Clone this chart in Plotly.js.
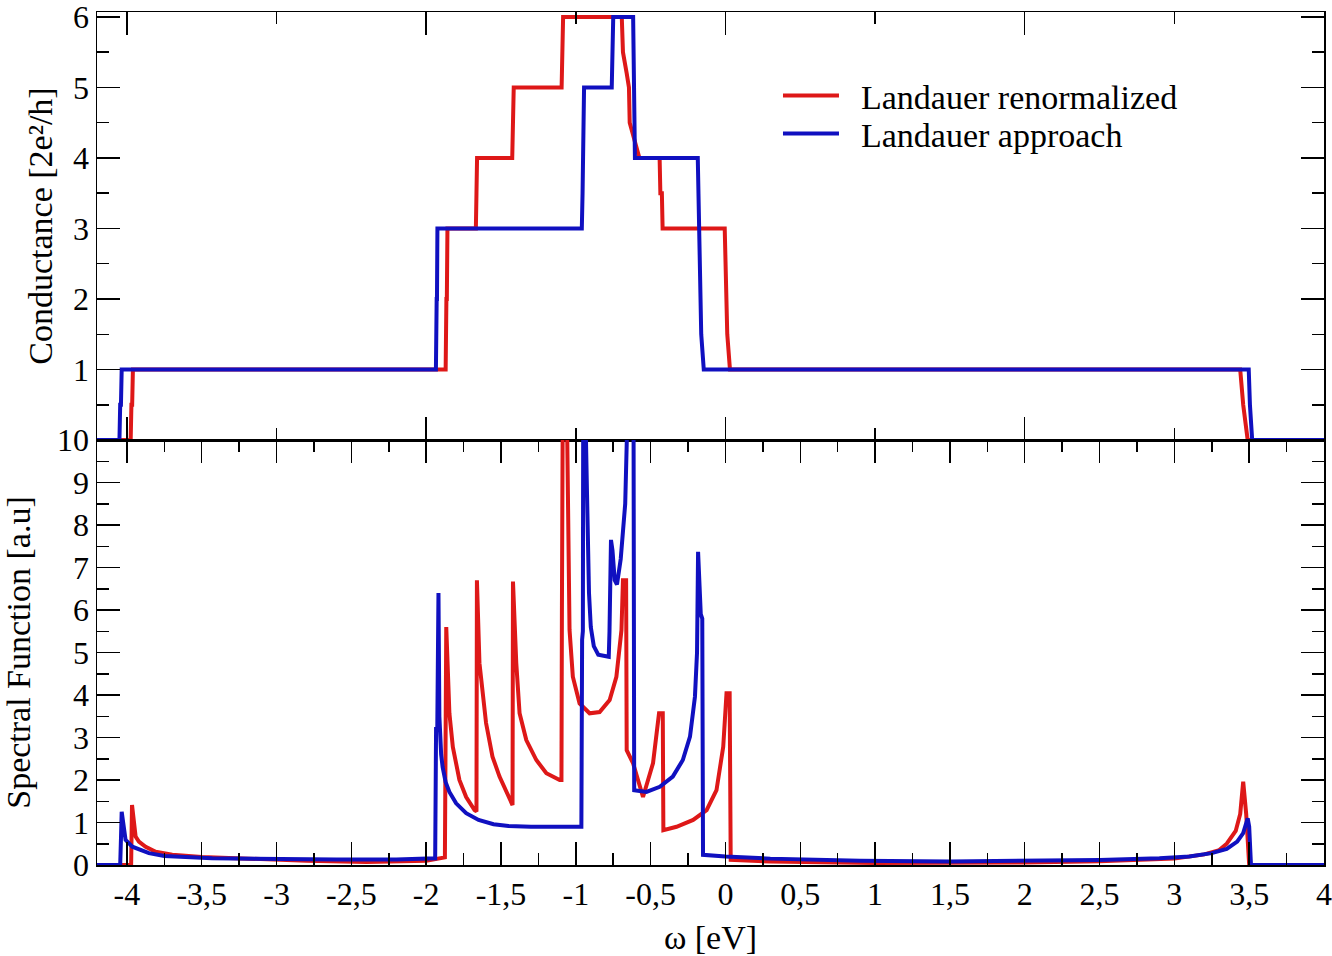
<!DOCTYPE html>
<html>
<head>
<meta charset="utf-8">
<script src="https://cdn.plot.ly/plotly-3.0.1.min.js"></script>
<style>html,body{margin:0;padding:0;background:#fff;}#chart{width:1332px;height:956px;}</style>
</head>
<body>
<div id="chart"></div>
<script>
// ---------- Conductance (top panel) ----------
const gRenX = [-4.2,-3.975,-3.97,-3.965,-3.96,-1.87,-1.865,-1.862,-1.858,-1.668,-1.664,-1.66,-1.425,-1.42,-1.415,-1.095,-1.09,-1.085,-0.693,-0.685,-0.66,-0.645,-0.64,-0.6,-0.575,-0.44,-0.435,-0.425,-0.42,-0.005,0.0,0.005,0.012,0.03,3.44,3.46,3.49,4.0];
const gRenY = [0,0,0.5,0.5,1,1,2,2,3,3,3.5,4,4,4.5,5,5,5.5,6,6,5.5,5.2,5,4.5,4.2,4,4,3.5,3.5,3,3,2.5,2.5,1.5,1,1,0.5,0,0];
const gAppX = [-4.2,-4.05,-4.045,-4.04,-4.035,-1.935,-1.93,-1.928,-1.925,-0.96,-0.955,-0.952,-0.948,-0.945,-0.76,-0.755,-0.75,-0.617,-0.612,-0.605,-0.185,-0.18,-0.172,-0.162,-0.145,3.497,3.505,3.52,4.0];
const gAppY = [0,0,0.5,0.5,1,1,2,2,3,3,3.5,4,4.5,5,5,5.5,6,6,5,4,4,3.5,2.5,1.5,1,1,0.5,0,0];

// ---------- Spectral function (bottom panel) ----------
const aRenX = [-4.2,-3.972,-3.966,-3.955,-3.942,-3.92,-3.875,-3.808,-3.697,-3.5,-3.2,-2.8,-2.4,-2.0,-1.875,-1.869,-1.866,-1.845,-1.822,-1.778,-1.733,-1.677,-1.664,-1.661,-1.644,-1.6,-1.557,-1.51,-1.443,-1.423,-1.42,-1.398,-1.376,-1.331,-1.264,-1.197,-1.108,-1.096,-1.093,-1.09,-1.086,-1.064,-1.053,-1.042,-1.02,-0.975,-0.908,-0.841,-0.774,-0.729,-0.695,-0.685,-0.664,-0.66,-0.618,-0.551,-0.484,-0.444,-0.419,-0.415,-0.327,-0.216,-0.126,-0.06,-0.015,0.007,0.028,0.035,0.3,1.0,2.0,2.5,3.0,3.2,3.3,3.35,3.41,3.44,3.46,3.48,3.5,4.0];
const aRenY = [0,0,1.41,0.99,0.67,0.55,0.43,0.31,0.24,0.19,0.15,0.1,0.07,0.1,0.18,5.6,5.6,3.57,2.78,2.0,1.6,1.29,1.26,6.7,4.75,3.34,2.55,2.08,1.53,1.41,6.67,4.75,3.57,2.94,2.47,2.16,2.0,2.0,6.0,12,12,12,7.73,5.53,4.43,3.8,3.57,3.6,3.88,4.43,5.53,6.7,6.7,2.7,2.4,1.6,2.4,3.57,3.57,0.82,0.9,1.06,1.29,1.76,2.78,4.04,4.04,0.12,0.08,0.05,0.06,0.09,0.15,0.25,0.35,0.5,0.8,1.2,1.96,1.2,0,0];
const aAppX = [-4.2,-4.045,-4.04,-4.035,-4.009,-3.964,-3.853,-3.75,-3.43,-3.0,-2.6,-2.2,-2.0,-1.94,-1.934,-1.926,-1.918,-1.912,-1.9,-1.89,-1.87,-1.845,-1.8,-1.733,-1.65,-1.55,-1.45,-1.3,-1.1,-0.963,-0.958,-0.953,-0.95,-0.935,-0.925,-0.918,-0.912,-0.9,-0.88,-0.85,-0.78,-0.775,-0.765,-0.755,-0.74,-0.725,-0.7,-0.67,-0.655,-0.645,-0.615,-0.61,-0.528,-0.439,-0.352,-0.285,-0.237,-0.204,-0.19,-0.183,-0.165,-0.155,-0.15,0.0,0.3,0.9,1.5,2.0,2.5,2.9,3.1,3.25,3.35,3.42,3.46,3.49,3.5,3.512,4.0];
const aAppY = [0,0,0.6,1.25,0.59,0.43,0.28,0.21,0.16,0.14,0.13,0.13,0.14,0.16,3.2,3.2,6.4,3.5,2.6,2.3,1.95,1.72,1.45,1.22,1.06,0.96,0.92,0.9,0.9,0.9,5.3,5.5,12,10.5,8.7,7.0,6.4,5.6,5.15,4.95,4.9,5.5,7.65,7.4,6.7,6.6,7.2,8.5,10.2,12,12,1.76,1.72,1.84,2.08,2.47,3.02,3.96,5.0,7.37,5.9,5.8,0.24,0.2,0.15,0.1,0.08,0.09,0.12,0.16,0.2,0.28,0.38,0.55,0.75,1.1,0.9,0,0];

// ---------- Axis ticks and labels ----------
const omegaTicks = [-4,-3.5,-3,-2.5,-2,-1.5,-1,-0.5,0,0.5,1,1.5,2,2.5,3,3.5,4];
const omegaLabels = ["-4","-3,5","-3","-2,5","-2","-1,5","-1","-0,5","0","0,5","1","1,5","2","2,5","3","3,5","4"];
const gTicks = [0,1,2,3,4,5,6];
const gLabels = ["","1","2","3","4","5","6"];   // the "0" coincides with the lower panel's "10"
const aTicks = [0,1,2,3,4,5,6,7,8,9,10];
const aLabels = ["0","1","2","3","4","5","6","7","8","9","10"];
const seriesNames = ["Landauer renormalized","Landauer approach"];

const RED = "rgb(222,24,24)";
const BLUE = "rgb(16,16,192)";
const FONT = "Liberation Serif, Times New Roman, serif";
const PAD = "\u00a0\u00a0";

const traces = [
  {x: gRenX, y: gRenY, xaxis: "x", yaxis: "y", mode: "lines", name: PAD + seriesNames[0], legend: "legend", line: {color: RED, width: 4}},
  {x: gAppX, y: gAppY, xaxis: "x", yaxis: "y", mode: "lines", name: PAD + seriesNames[1], legend: "legend2", line: {color: BLUE, width: 4}},
  {x: aRenX, y: aRenY, xaxis: "x2", yaxis: "y2", mode: "lines", name: seriesNames[0], showlegend: false, line: {color: RED, width: 4}},
  {x: aAppX, y: aAppY, xaxis: "x2", yaxis: "y2", mode: "lines", name: seriesNames[1], showlegend: false, line: {color: BLUE, width: 4}}
];

const axCommon = {
  showgrid: false, zeroline: false, showline: true, linecolor: "#000", linewidth: 1.5,
  mirror: "ticks", ticks: "inside", tickcolor: "#000", tickwidth: 1.5, ticklen: 23,
  ticklabeloverflow: "allow",
  tickfont: {family: FONT, size: 32, color: "#000"}
};
const minorTicks = (d) => ({tickmode: "linear", tick0: 0, dtick: d, ticks: "inside", ticklen: 12, tickwidth: 1.5, tickcolor: "#000"});
const SPLIT = 0.4982;
const legendCommon = {xanchor: "left", yanchor: "middle", bgcolor: "rgba(0,0,0,0)", borderwidth: 0,
                      itemwidth: 56, font: {family: FONT, size: 34, color: "#000"}};

const layout = {
  width: 1332, height: 956,
  margin: {l: 97, r: 8, t: 12, b: 91},
  paper_bgcolor: "#fff", plot_bgcolor: "#fff",
  font: {family: FONT, color: "#000"},
  showlegend: true,
  legend: Object.assign({}, legendCommon, {x: 0.555, y: 0.9015}),
  legend2: Object.assign({}, legendCommon, {x: 0.555, y: 0.857}),
  xaxis: Object.assign({}, axCommon, {
    domain: [0, 1], anchor: "y", range: [-4.2, 4], showticklabels: false,
    tickmode: "linear", tick0: 0, dtick: 2, minor: minorTicks(1)
  }),
  yaxis: Object.assign({}, axCommon, {
    domain: [SPLIT, 1], anchor: "x", range: [0, 6.07],
    tickmode: "array", tickvals: gTicks, ticktext: gLabels, minor: minorTicks(0.5),
    title: {text: "Conductance [2e²/h]", standoff: 10, font: {family: FONT, size: 34, color: "#000"}}
  }),
  xaxis2: Object.assign({}, axCommon, {
    domain: [0, 1], anchor: "y2", range: [-4.2, 4],
    tickmode: "array", tickvals: omegaTicks, ticktext: omegaLabels, minor: minorTicks(0.25),
    title: {text: "ω [eV]", font: {family: FONT, size: 34, color: "#000"}}
  }),
  yaxis2: Object.assign({}, axCommon, {
    domain: [0, SPLIT], anchor: "x2", range: [0, 10],
    tickmode: "array", tickvals: aTicks, ticktext: aLabels, minor: minorTicks(0.5),
    title: {text: "Spectral Function [a.u]", standoff: 18, font: {family: FONT, size: 34, color: "#000"}}
  })
};

Plotly.newPlot("chart", traces, layout, {staticPlot: true, displayModeBar: false});
</script>
</body>
</html>
